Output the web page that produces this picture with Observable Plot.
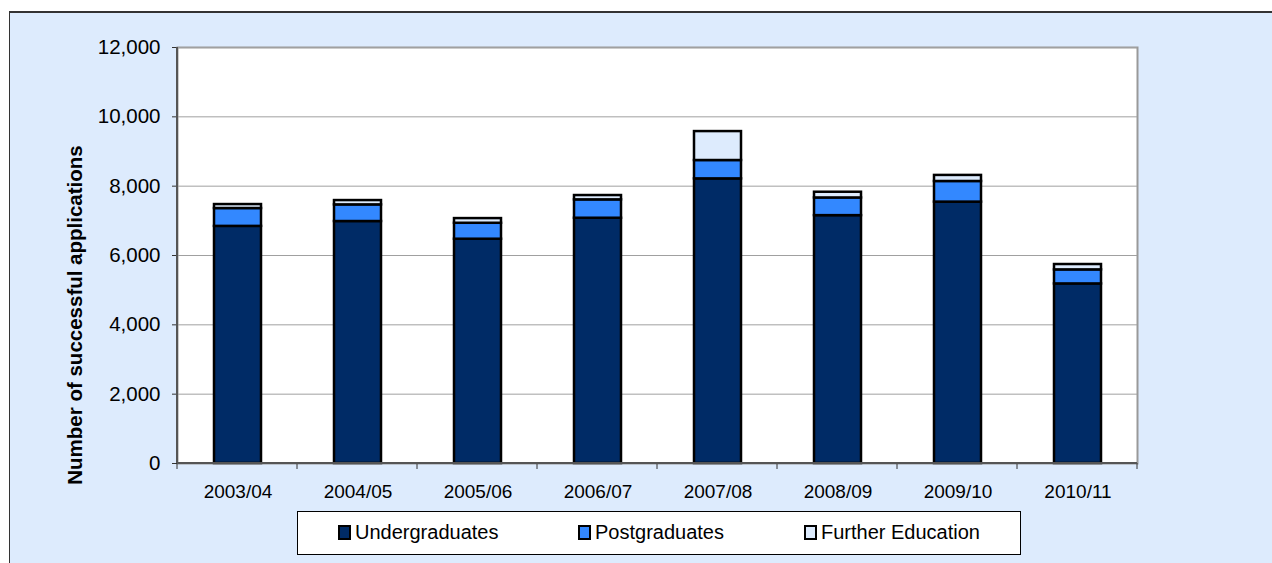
<!DOCTYPE html>
<html>
<head>
<meta charset="utf-8">
<script src="https://cdn.jsdelivr.net/npm/d3@7"></script>
<script src="https://cdn.jsdelivr.net/npm/@observablehq/plot@0.6"></script>
<style>
  html, body { margin: 0; padding: 0; background: #ffffff; width: 1272px; height: 563px; overflow: hidden; font-family: "Liberation Sans", Arial, sans-serif; }
  #panel { position: absolute; left: 9px; top: 11px; width: 1263px; height: 552px; background: #DDEBFD; border-top: 2px solid #333; border-left: 1px solid #333; box-sizing: border-box; }
  #chart { position: absolute; left: 0; top: 0; }
  #ylabel { position: absolute; left: 65px; top: 302px; transform: translate(-50%, -50%) rotate(-90deg); white-space: nowrap; font-weight: bold; font-size: 20.5px; color: #000; }
  #legend { position: absolute; left: 287px; top: 498px; width: 724px; height: 44px; background: #fff; border: 1px solid #000; box-sizing: border-box; font-size: 20px; }
  .item { position: absolute; top: 9px; display: flex; align-items: center; }
  .sw { width: 9px; height: 11px; border: 2px solid #000; margin-right: 4px; box-sizing: content-box; }
</style>
</head>
<body>
<div id="panel">
  <div id="chart"></div>
  <div id="ylabel">Number of successful applications</div>
  <div id="legend"></div>
</div>
<script>
// ---- data ----
const years = ["2003/04", "2004/05", "2005/06", "2006/07", "2007/08", "2008/09", "2009/10", "2010/11"];
const undergraduates = [6840, 6980, 6470, 7075, 8210, 7150, 7540, 5180];
const postgraduates = [515, 480, 460, 530, 530, 510, 595, 405];
const furtherEducation = [115, 125, 135, 125, 835, 165, 175, 155];
const seriesNames = ["Undergraduates", "Postgraduates", "Further Education"];
const seriesColors = ["#002B66", "#3388FF", "#DDEBFD"];
const yTicks = [0, 2000, 4000, 6000, 8000, 10000, 12000];

const seriesValues = [undergraduates, postgraduates, furtherEducation];
const rows = [];
years.forEach((yr, i) => {
  seriesNames.forEach((s, j) => rows.push({year: yr, series: s, value: seriesValues[j][i]}));
});

// boundary ticks + dark axis lines, derived from plot dimensions
function axisLines(index, scales, values, dims) {
  const {width, height, marginLeft, marginRight, marginTop, marginBottom} = dims;
  const g = d3.create("svg:g");
  const x0 = marginLeft, x1 = width - marginRight, yb = height - marginBottom;
  const step = (x1 - x0) / years.length;
  for (let i = 0; i <= years.length; i++) {
    g.append("line").attr("x1", x0 + i * step).attr("x2", x0 + i * step)
      .attr("y1", yb).attr("y2", yb + 6).attr("stroke", "#333").attr("stroke-width", 1);
  }
  g.append("line").attr("x1", x0).attr("x2", x1).attr("y1", yb).attr("y2", yb)
    .attr("stroke", "#555").attr("stroke-width", 2);
  g.append("line").attr("x1", x0).attr("x2", x0).attr("y1", marginTop).attr("y2", yb)
    .attr("stroke", "#555").attr("stroke-width", 2);
  return g.node();
}

const chart = Plot.plot({
  width: 1262,
  height: 490,
  marginLeft: 167,
  marginRight: 135,
  marginTop: 34,
  marginBottom: 40,
  style: {background: "transparent", fontFamily: "'Liberation Sans', Arial, sans-serif", color: "#000"},
  x: {domain: years, paddingInner: 0.61, paddingOuter: 0.305, label: null},
  y: {domain: [0, 12000], label: null},
  color: {domain: seriesNames, range: seriesColors},
  marks: [
    Plot.frame({fill: "#ffffff", stroke: "#999999", strokeWidth: 2}),
    Plot.gridY(yTicks, {stroke: "#A0A0A0", strokeOpacity: 1, strokeWidth: 1}),
    Plot.axisY(yTicks, {tickSize: 5, tickPadding: 12, tickFormat: d3.format(","), fontSize: 20.5, label: null, stroke: "#333"}),
    Plot.axisX({tickSize: 0, tickPadding: 21, fontSize: 19, label: null}),
    Plot.barY(rows, Plot.stackY({x: "year", y: "value", fill: "series", order: seriesNames, stroke: "#000", strokeWidth: 2.5})),
    axisLines
  ]
});
document.getElementById("chart").appendChild(chart);

// legend
const legend = document.getElementById("legend");
const legendLeft = [40, 280, 506];
seriesNames.forEach((s, j) => {
  const it = document.createElement("div");
  it.className = "item";
  it.style.left = legendLeft[j] + "px";
  const sw = document.createElement("span");
  sw.className = "sw";
  sw.style.background = seriesColors[j];
  const t = document.createElement("span");
  t.textContent = s;
  it.appendChild(sw); it.appendChild(t);
  legend.appendChild(it);
});
</script>
</body>
</html>
